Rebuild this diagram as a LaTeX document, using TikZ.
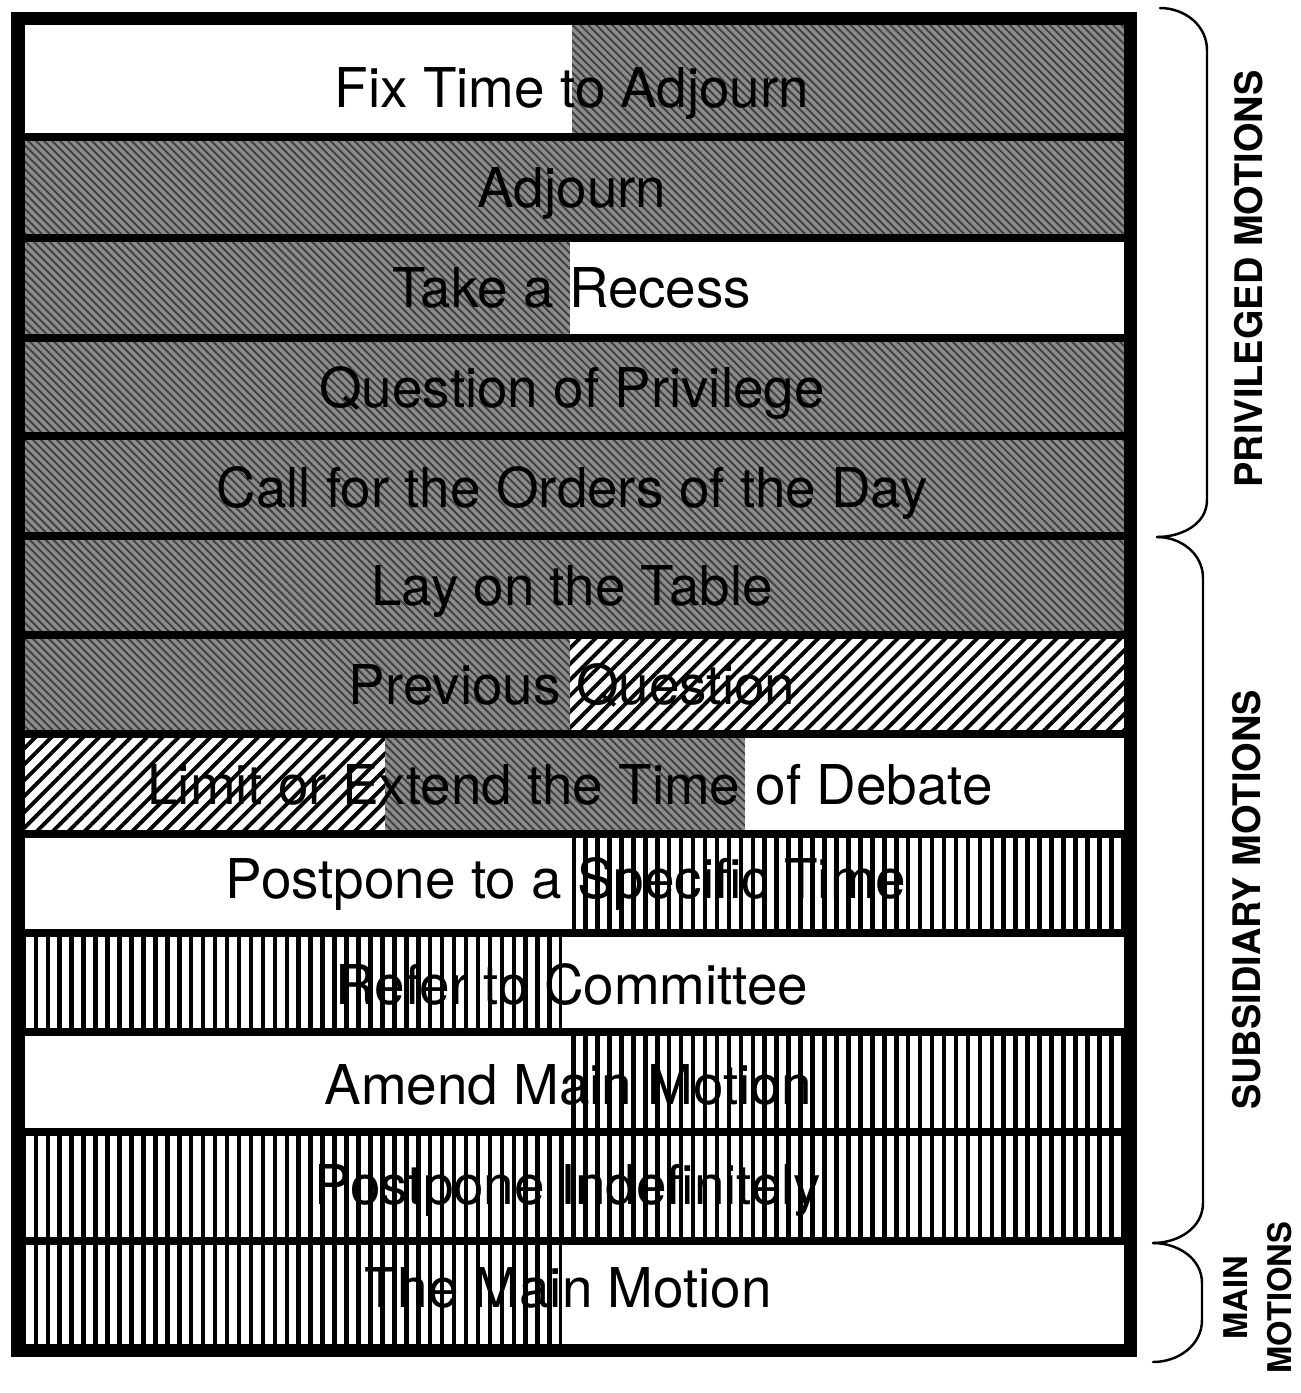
\documentclass[tikz,border=0pt]{standalone}
\usepackage{fontspec}
\setmainfont{TeX Gyre Heros}
\usepackage{tikz}
\usetikzlibrary{patterns.meta}
\tikzstyle{blank} = [fill=white]
\tikzstyle{shade} = [fill=black!45, postaction={pattern={Lines[angle=-45,
distance=1.6pt,line width=0.55pt]}, pattern color=black!75}]
\tikzstyle{hatch} = [fill=white, postaction={pattern={Lines[angle=45,
distance=3.2pt,line width=1.1pt]}}]
\tikzstyle{stripe} = [fill=white, postaction={pattern={Lines[angle=90,
distance=3.4pt,line width=1.3pt]}}]
\tikzstyle{motion} = [anchor=base, inner sep=0pt,
font=\fontsize{15.6}{18}\selectfont]
\tikzstyle{group} = [rotate=90, align=center, inner sep=0pt,
font=\fontsize{10.8}{13}\selectfont\bfseries]
\tikzstyle{bracket} = [line width=0.7pt, line cap=round]

\begin{document}
\begin{tikzpicture}
   \useasboundingbox (0,0) rectangle (13.01,-13.93);
   % cells of the table
   \fill[blank]  (0.18,-0.18) rectangle (5.72,-1.37);
   \fill[shade]  (5.72,-0.18) rectangle (11.30,-1.37);
   \fill[shade]  (0.18,-1.37) rectangle (11.30,-2.38);
   \fill[shade]  (0.18,-2.38) rectangle (5.70,-3.38);
   \fill[blank]  (5.70,-2.38) rectangle (11.30,-3.38);
   \fill[shade]  (0.18,-3.38) rectangle (11.30,-4.36);
   \fill[shade]  (0.18,-4.36) rectangle (11.30,-5.36);
   \fill[shade]  (0.18,-5.36) rectangle (11.30,-6.35);
   \fill[shade]  (0.18,-6.35) rectangle (5.70,-7.34);
   \fill[hatch]  (5.70,-6.35) rectangle (11.30,-7.34);
   \fill[hatch]  (0.18,-7.34) rectangle (3.85,-8.34);
   \fill[shade]  (3.85,-7.34) rectangle (7.45,-8.34);
   \fill[blank]  (7.45,-7.34) rectangle (11.30,-8.34);
   \fill[blank]  (0.18,-8.34) rectangle (5.72,-9.33);
   \fill[stripe] (5.72,-8.34) rectangle (11.30,-9.33);
   \fill[stripe] (0.18,-9.33) rectangle (5.62,-10.32);
   \fill[blank]  (5.62,-9.33) rectangle (11.30,-10.32);
   \fill[blank]  (0.18,-10.32) rectangle (5.70,-11.32);
   \fill[stripe] (5.70,-10.32) rectangle (11.30,-11.32);
   \fill[stripe] (0.18,-11.32) rectangle (11.30,-12.41);
   \fill[stripe] (0.18,-12.41) rectangle (5.62,-13.50);
   \fill[blank]  (5.62,-12.41) rectangle (11.30,-13.50);
   % rules between the rows
   \foreach \y in {1.37,2.38,3.38,4.36,5.36,6.35,7.34,8.34,9.33,10.32,11.32,12.41}
      \draw[line width=2.3pt] (0.18,-\y) -- (11.30,-\y);
   \draw[line width=3.7pt] (0.18,-0.18) rectangle (11.30,-13.50);
   % motions
   \node[motion] (fixtime) at (5.72,-1.07) {Fix Time to Adjourn};
   \node[motion] (adjourn) at (5.72,-2.07) {Adjourn};
   \node[motion] (recess) at (5.72,-3.07) {Take a Recess};
   \node[motion] (privilege) at (5.72,-4.07) {Question of Privilege};
   \node[motion] (orders) at (5.72,-5.07) {Call for the Orders of the Day};
   \node[motion] (table) at (5.72,-6.05) {Lay on the Table};
   \node[motion] (previous) at (5.72,-7.04) {Previous Question};
   \node[motion] (limit) at (5.70,-8.04) {Limit or Extend the Time of Debate};
   \node[motion] (postpone) at (5.66,-8.98) {Postpone to a Specific Time};
   \node[motion] (refer) at (5.72,-10.04) {Refer to Committee};
   \node[motion] (amend) at (5.68,-11.04) {Amend Main Motion};
   \node[motion] (indefinitely) at (5.68,-12.04) {Postpone Indefinitely};
   \node[motion] (mainmotion) at (5.68,-13.07) {The Main Motion};
   % brackets and their labels
   \coordinate (privtop) at (11.60,-0.08);
   \coordinate (privend) at (11.57,-5.37);
   \coordinate (subsend) at (11.53,-12.43);
   \coordinate (mainend) at (11.53,-13.62);
   \draw[bracket] (privtop) to[out=0,in=90] (12.07,-0.50) -- (12.07,-5.00)
      to[out=-90,in=0] (privend);
   \draw[bracket] (privend) to[out=0,in=90] (12.03,-5.78) -- (12.03,-12.03)
      to[out=-90,in=0] (subsend);
   \draw[bracket] (subsend) to[out=0,in=90] (12.02,-12.83) -- (12.02,-13.20)
      to[out=-90,in=0] (mainend);
   \node[group] (privileged) at (12.49,-2.79) {PRIVILEGED MOTIONS};
   \node[group] (subsidiary) at (12.47,-9.00) {SUBSIDIARY MOTIONS};
   \node[group,font=\fontsize{9.3}{12.5}\selectfont\bfseries] (main) at (12.58,-12.98)
      {MAIN\\MOTIONS};
  \end{tikzpicture}
\end{document}
